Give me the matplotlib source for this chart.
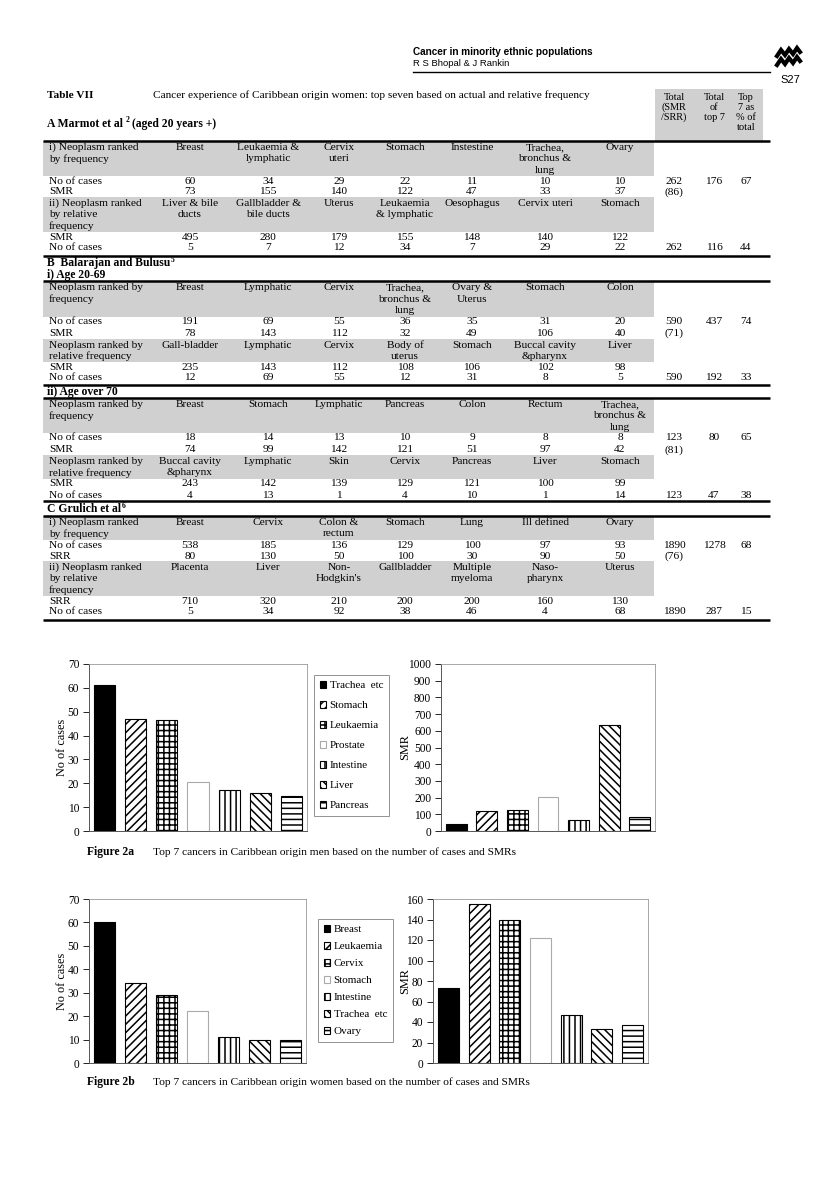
import matplotlib
matplotlib.use('Agg')
import matplotlib.pyplot as plt
from matplotlib.patches import Rectangle

plt.rcParams['font.family'] = ['Liberation Serif', 'DejaVu Serif']
plt.rcParams['hatch.linewidth'] = 1.1

W, H = 816, 1185

# ---------------- table data ----------------
col_x = [190, 268, 339, 405, 472, 545, 620]
tot_x = [674, 714, 746]

a_freq_sites = ['Breast', 'Leukaemia &\nlymphatic', 'Cervix\nuteri', 'Stomach', 'Instestine',
                'Trachea,\nbronchus &\nlung', 'Ovary']
a_freq_cases = [60, 34, 29, 22, 11, 10, 10]
a_freq_smr = [73, 155, 140, 122, 47, 33, 37]
a_freq_tot = ['262', '176', '67']
a_freq_smr_tot = ['(86)', '', '']
a_rel_sites = ['Liver & bile\nducts', 'Gallbladder &\nbile ducts', 'Uterus', 'Leukaemia\n& lymphatic',
               'Oesophagus', 'Cervix uteri', 'Stomach']
a_rel_smr = [495, 280, 179, 155, 148, 140, 122]
a_rel_cases = [5, 7, 12, 34, 7, 29, 22]
a_rel_tot = ['262', '116', '44']

b1_freq_sites = ['Breast', 'Lymphatic', 'Cervix', 'Trachea,\nbronchus &\nlung', 'Ovary &\nUterus',
                 'Stomach', 'Colon']
b1_freq_cases = [191, 69, 55, 36, 35, 31, 20]
b1_freq_smr = [78, 143, 112, 32, 49, 106, 40]
b1_freq_tot = ['590', '437', '74']
b1_freq_smr_tot = ['(71)', '', '']
b1_rel_sites = ['Gall-bladder', 'Lymphatic', 'Cervix', 'Body of\nuterus', 'Stomach',
                'Buccal cavity\n&pharynx', 'Liver']
b1_rel_smr = [235, 143, 112, 108, 106, 102, 98]
b1_rel_cases = [12, 69, 55, 12, 31, 8, 5]
b1_rel_tot = ['590', '192', '33']

b2_freq_sites = ['Breast', 'Stomach', 'Lymphatic', 'Pancreas', 'Colon', 'Rectum',
                 'Trachea,\nbronchus &\nlung']
b2_freq_cases = [18, 14, 13, 10, 9, 8, 8]
b2_freq_smr = [74, 99, 142, 121, 51, 97, 42]
b2_freq_tot = ['123', '80', '65']
b2_freq_smr_tot = ['(81)', '', '']
b2_rel_sites = ['Buccal cavity\n&pharynx', 'Lymphatic', 'Skin', 'Cervix', 'Pancreas', 'Liver', 'Stomach']
b2_rel_smr = [243, 142, 139, 129, 121, 100, 99]
b2_rel_cases = [4, 13, 1, 4, 10, 1, 14]
b2_rel_tot = ['123', '47', '38']

c_freq_sites = ['Breast', 'Cervix', 'Colon &\nrectum', 'Stomach', 'Lung', 'Ill defined', 'Ovary']
c_freq_cases = [538, 185, 136, 129, 100, 97, 93]
c_freq_srr = [80, 130, 50, 100, 30, 90, 50]
c_freq_tot = ['1890', '1278', '68']
c_freq_srr_tot = ['(76)', '', '']
c_rel_sites = ['Placenta', 'Liver', 'Non-\nHodgkin\'s', 'Gallbladder', 'Multiple\nmyeloma',
               'Naso-\npharynx', 'Uterus']
c_rel_srr = [710, 320, 210, 200, 200, 160, 130]
c_rel_cases = [5, 34, 92, 38, 46, 4, 68]
c_rel_tot = ['1890', '287', '15']

# ---------------- chart data ----------------
men_sites = ['Trachea  etc', 'Stomach', 'Leukaemia', 'Prostate', 'Intestine', 'Liver', 'Pancreas']
men_cases = [61, 47, 46.5, 20.5, 17, 16, 14.5]
men_smr = [44, 120, 128, 205, 68, 636, 85]

women_sites = ['Breast', 'Leukaemia', 'Cervix', 'Stomach', 'Intestine', 'Trachea  etc', 'Ovary']
women_cases = [60, 34, 29, 22, 11, 10, 10]
women_smr = [73, 155, 140, 122, 47, 33, 37]

fills = ['black', 'white', 'white', 'white', 'white', 'white', 'white']
hatches = [None, '////', '+++', None, '|||', '\\\\\\\\', '---']
edges = ['black', 'black', 'black', '#aaaaaa', 'black', 'black', 'black']

fig = plt.figure(figsize=(W / 100, H / 100), dpi=100)
bg = fig.add_axes([0, 0, 1, 1])
bg.set_xlim(0, W)
bg.set_ylim(H, 0)
bg.axis('off')

FS = 8.2
LH = 11.4
SHADE = '#d0d0d0'

# page header
hdr = ['Liberation Sans Narrow', 'Liberation Sans', 'DejaVu Sans']
bg.text(413, 52, 'Cancer in minority ethnic populations', family=hdr, fontsize=7.2,
        weight='bold', va='center')
bg.text(413, 64, 'R S Bhopal & J Rankin', family=hdr, fontsize=6.8, va='center')
bg.plot([413, 770], [72, 72], color='black', lw=1.0)
bg.text(800, 80, 'S27', family=hdr, fontsize=8, ha='right', va='center')
for dy in (0, 9):
    bg.plot([777, 781, 785, 789, 793, 797, 800], [56 + dy, 50 + dy, 55 + dy, 49 + dy, 54 + dy, 48 + dy, 52 + dy],
            color='black', lw=3, solid_joinstyle='miter')

bg.text(47, 95, 'Table VII', fontsize=8.2, weight='bold', va='center')
bg.text(153, 95, 'Cancer experience of Caribbean origin women: top seven based on actual and relative frequency',
        fontsize=8.1, va='center')

# header box on the right
bg.add_patch(Rectangle((655, 89), 108, 52, color=SHADE, lw=0))
for x, lines in zip(tot_x, [['Total', '(SMR', '/SRR)'], ['Total', 'of', 'top 7'], ['Top', '7 as', '% of', 'total']]):
    for i, s in enumerate(lines):
        bg.text(x, 97 + i * 10, s, fontsize=7.4, ha='center', va='center')


def hline(y, lw=1.8):
    bg.plot([43, 770], [y, y], color='black', lw=lw, solid_capstyle='butt')


def heading(y, s, sup=None):
    t = bg.text(47, y, s, fontsize=8.4, weight='bold', va='center')
    if sup:
        fig.canvas.draw()
        bb = t.get_window_extent().transformed(bg.transData.inverted())
        bg.text(bb.x1 + 0.5, y - 3.5, sup, fontsize=5.5, weight='bold', va='center')


def names_row(y, label, names):
    lab = label.split('\n')
    nl = max([len(lab)] + [len(n.split('\n')) for n in names])
    bg.add_patch(Rectangle((43, y - 6.5), 611, (nl - 1) * LH + 12.5, color=SHADE, lw=0))
    for i, s in enumerate(lab):
        bg.text(49, y + i * LH, s, fontsize=FS, va='center')
    for x, n in zip(col_x, names):
        for i, s in enumerate(n.split('\n')):
            bg.text(x, y + i * LH, s, fontsize=FS, ha='center', va='center')


def value_row(y, label, vals, tots):
    bg.text(49, y, label, fontsize=FS, va='center')
    for x, v in zip(col_x, vals):
        bg.text(x, y, str(v), fontsize=FS, ha='center', va='center')
    for x, v in zip(tot_x, tots):
        bg.text(x, y, v, fontsize=FS, ha='center', va='center')


# A
t = bg.text(47, 124, 'A Marmot et al', fontsize=8.4, weight='bold', va='center')
fig.canvas.draw()
x1 = t.get_window_extent().transformed(bg.transData.inverted()).x1
bg.text(x1 + 3, 120, '2', fontsize=5.5, weight='bold', va='center')
bg.text(x1 + 9, 124, '(aged 20 years +)', fontsize=8.4, weight='bold', va='center')
hline(141)
names_row(147.5, 'i) Neoplasm ranked\nby frequency', a_freq_sites)
value_row(181, 'No of cases', a_freq_cases, a_freq_tot)
value_row(192, 'SMR', a_freq_smr, a_freq_smr_tot)
names_row(203.5, 'ii) Neoplasm ranked\nby relative\nfrequency', a_rel_sites)
value_row(237, 'SMR', a_rel_smr, ['', '', ''])
value_row(248, 'No of cases', a_rel_cases, a_rel_tot)
hline(256)

# B
heading(263, 'B  Balarajan and Bulusu', '5')
heading(275, 'i) Age 20-69')
hline(281)
names_row(288, 'Neoplasm ranked by\nfrequency', b1_freq_sites)
value_row(322, 'No of cases', b1_freq_cases, b1_freq_tot)
value_row(333.5, 'SMR', b1_freq_smr, b1_freq_smr_tot)
names_row(345, 'Neoplasm ranked by\nrelative frequency', b1_rel_sites)
value_row(367, 'SMR', b1_rel_smr, ['', '', ''])
value_row(378, 'No of cases', b1_rel_cases, b1_rel_tot)
hline(385)
heading(392, 'ii) Age over 70')
hline(398)
names_row(404.5, 'Neoplasm ranked by\nfrequency', b2_freq_sites)
value_row(438, 'No of cases', b2_freq_cases, b2_freq_tot)
value_row(450, 'SMR', b2_freq_smr, b2_freq_smr_tot)
names_row(461.5, 'Neoplasm ranked by\nrelative frequency', b2_rel_sites)
value_row(484, 'SMR', b2_rel_smr, ['', '', ''])
value_row(495, 'No of cases', b2_rel_cases, b2_rel_tot)
hline(501)

# C
heading(509.5, 'C Grulich et al', '6')
hline(516)
names_row(522.5, 'i) Neoplasm ranked\nby frequency', c_freq_sites)
value_row(545, 'No of cases', c_freq_cases, c_freq_tot)
value_row(556.5, 'SRR', c_freq_srr, c_freq_srr_tot)
names_row(567.5, 'ii) Neoplasm ranked\nby relative\nfrequency', c_rel_sites)
value_row(601, 'SRR', c_rel_srr, ['', '', ''])
value_row(612, 'No of cases', c_rel_cases, c_rel_tot)
hline(620)


# ---------------- bar charts ----------------
def bar_axes(x0, x1, y0, y1, vals, ymax, step, ylabel, ylab_x):
    ax = fig.add_axes([x0 / W, 1 - y1 / H, (x1 - x0) / W, (y1 - y0) / H])
    bars = ax.bar(range(len(vals)), vals, width=0.68, color=fills, edgecolor=edges, linewidth=0.8)
    for b, h in zip(bars, hatches):
        if h:
            b.set_hatch(h)
    ax.set_xlim(-0.5, len(vals) - 0.5)
    ax.set_ylim(0, ymax)
    ax.set_yticks(range(0, ymax + 1, step))
    ax.set_xticks([])
    ax.tick_params(axis='y', direction='out', length=4, width=0.6, labelsize=8.3, pad=3)
    for s in ('top', 'right'):
        ax.spines[s].set_color('#999999')
        ax.spines[s].set_linewidth(0.6)
    ax.spines['left'].set_linewidth(0.7)
    ax.spines['left'].set_color('#555555')
    ax.spines['bottom'].set_linewidth(0.7)
    ax.spines['bottom'].set_color('#555555')
    fig.text(ylab_x / W, 1 - (y0 + y1) / 2 / H, ylabel, rotation=90, ha='center', va='center', fontsize=8.8)
    return bars


def legend(bars, labels, x, y, spacing):
    lg = fig.legend(bars, labels, loc='upper left', bbox_to_anchor=(x / W, 1 - y / H), fontsize=8,
                    handlelength=0.6, handleheight=0.6, handletextpad=0.3, labelspacing=spacing,
                    borderaxespad=0, borderpad=0.5, fancybox=False, frameon=True)
    lg.get_frame().set_edgecolor('#777777')
    lg.get_frame().set_linewidth(0.7)


bars = bar_axes(89, 307, 664, 831, men_cases, 70, 10, 'No of cases', 62)
legend(bars, men_sites, 314, 675, 0.95)
bar_axes(441, 655, 664, 831, men_smr, 1000, 100, 'SMR', 405)

bg.text(87, 852, 'Figure 2a', fontsize=8.4, weight='bold', va='center')
bg.text(153, 852, 'Top 7 cancers in Caribbean origin men based on the number of cases and SMRs',
        fontsize=8.2, va='center')

bars = bar_axes(89, 306, 899, 1063, women_cases, 70, 10, 'No of cases', 62)
legend(bars, women_sites, 318, 919, 0.68)
bar_axes(433, 648, 899, 1063, women_smr, 160, 20, 'SMR', 405)

bg.text(87, 1082, 'Figure 2b', fontsize=8.4, weight='bold', va='center')
bg.text(153, 1082, 'Top 7 cancers in Caribbean origin women based on the number of cases and SMRs',
        fontsize=8.2, va='center')

fig.savefig('out.png', dpi=100)
